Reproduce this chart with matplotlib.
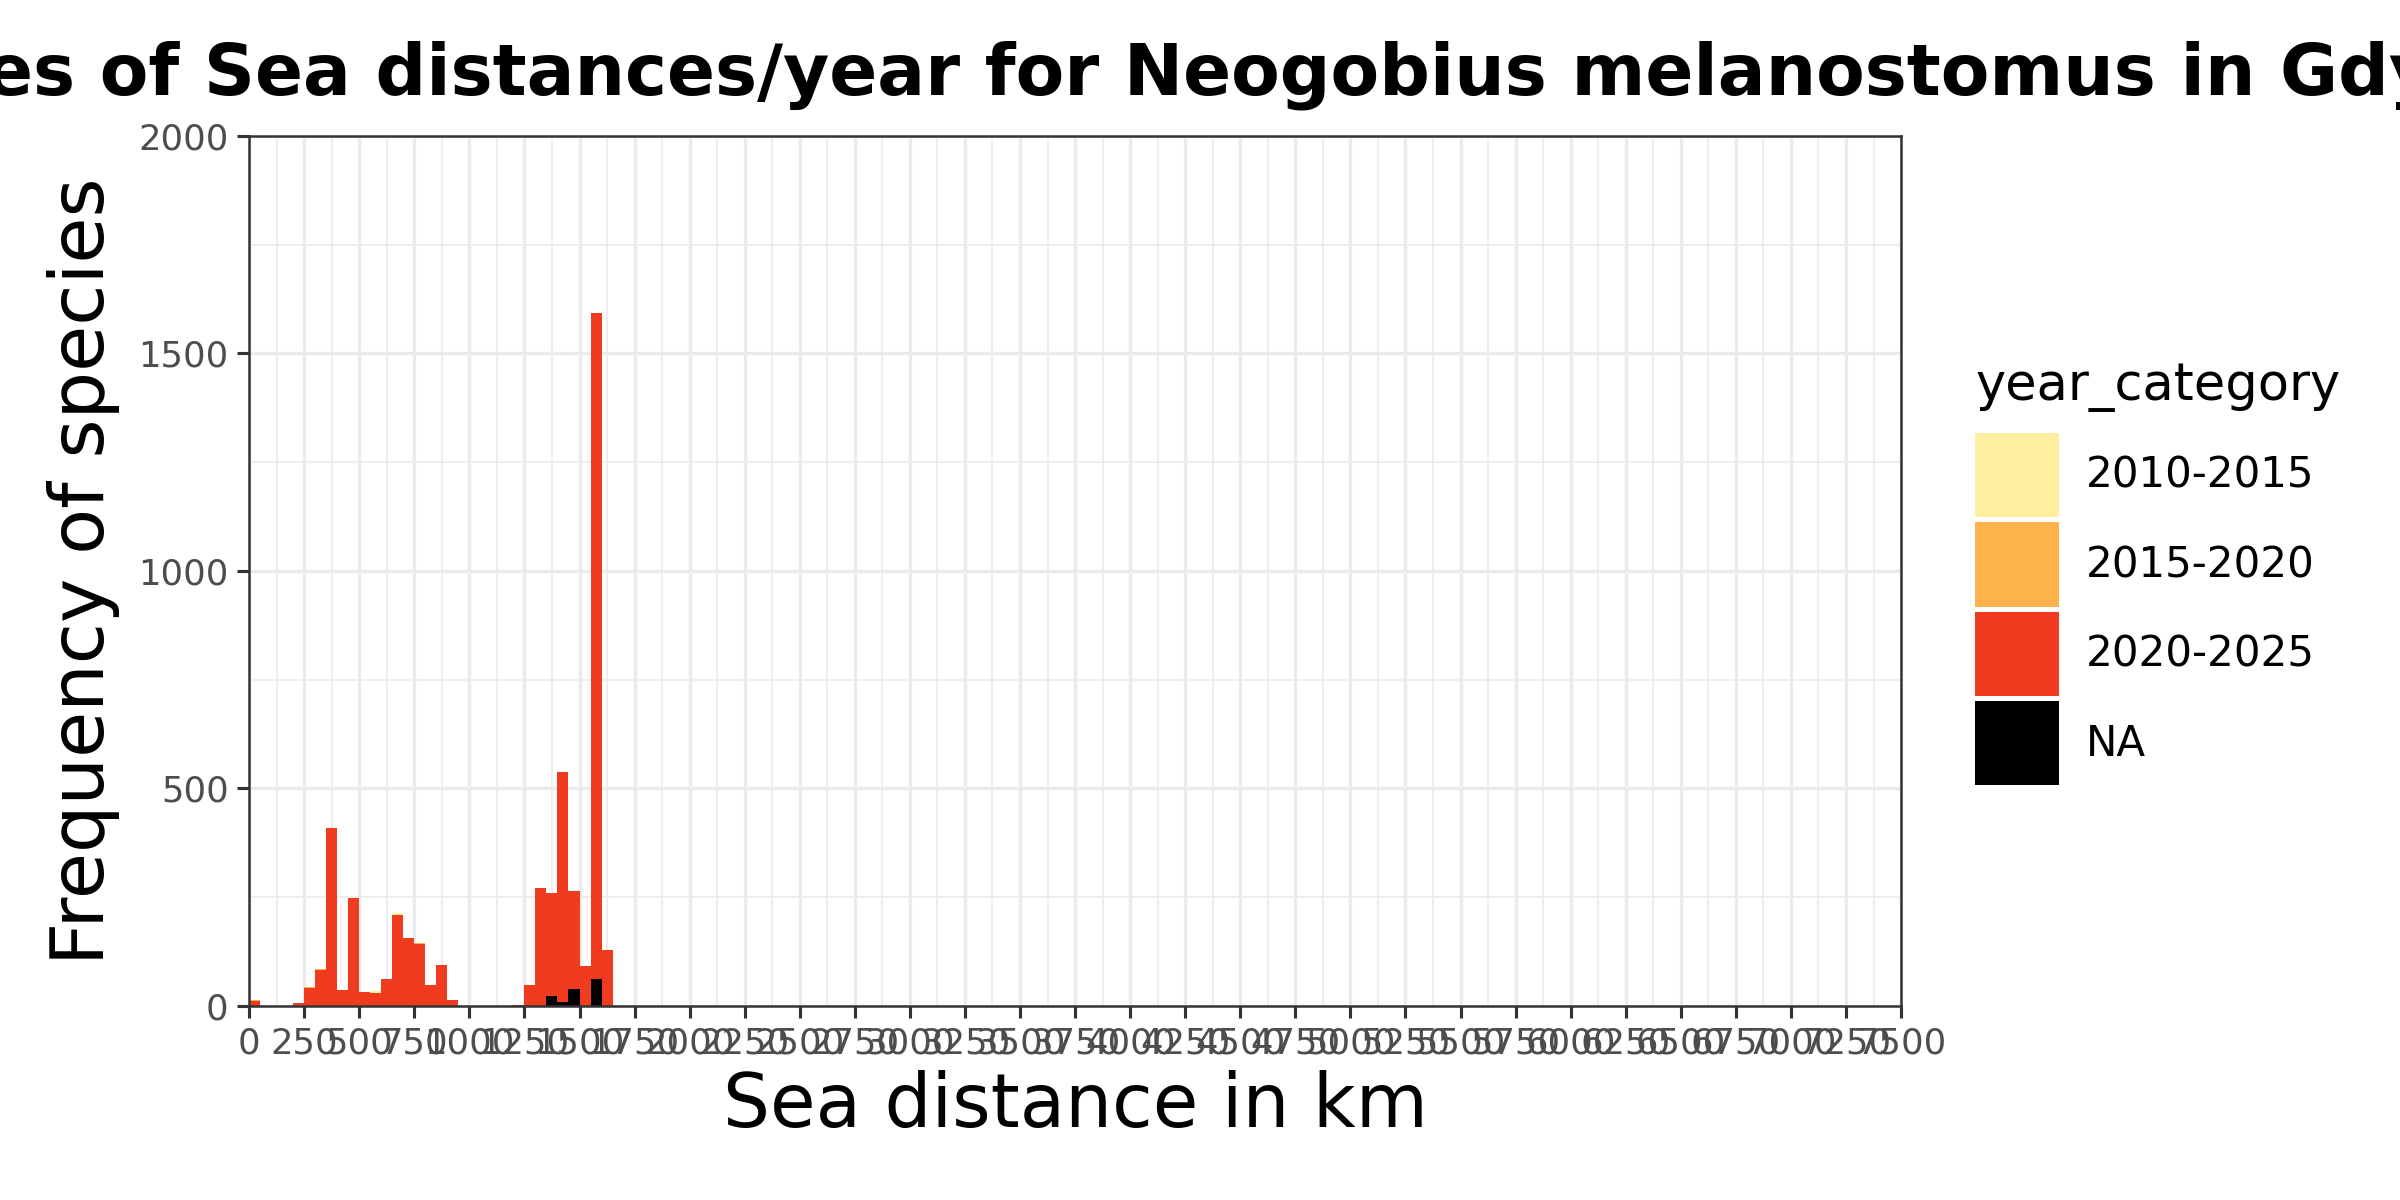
import numpy as np
import matplotlib
matplotlib.use("Agg")
import matplotlib.pyplot as plt
from matplotlib.patches import Patch

############## DATA (50 km bins) ##############
bin_width = 50
bin_starts = np.arange(0, 1650, bin_width)   # 0, 50, ..., 1600

# counts per bin, one list per year category (33 bins)
na_counts = [1, 0, 0, 0, 0, 1, 0, 0, 0, 0, 0, 0, 0, 0, 0, 0, 0, 0, 0,
             0, 0, 0, 0, 0, 0, 0, 0, 22, 8, 38, 0, 61, 0]
c2020_2025 = [10, 0, 0, 0, 7, 40, 83, 409, 36, 248, 31, 30, 61, 209, 157, 142, 48,
              94, 13, 0, 0, 0, 0, 0, 2, 48, 271, 237, 529, 226, 91, 1531, 128]
c2015_2020 = [2, 0, 0, 0, 0, 2, 2, 0, 0, 0, 0, 0, 0, 0, 0, 3, 0,
              0, 0, 0, 0, 0, 0, 0, 0, 0, 0, 0, 0, 0, 0, 0, 0]
c2010_2015 = [0, 0, 0, 0, 0, 0, 0, 0, 0, 0, 0, 4, 0, 5, 0, 0, 0,
              0, 0, 0, 0, 0, 0, 0, 0, 0, 0, 0, 0, 0, 0, 0, 0]

categories = ["2010-2015", "2015-2020", "2020-2025", "NA"]
colors = {"2010-2015": "#FFEDA0", "2015-2020": "#FEB24C",
          "2020-2025": "#F03B20", "NA": "#000000"}

# ggplot stacks the first level on top -> draw from the bottom up
stack = [("NA", na_counts), ("2020-2025", c2020_2025),
         ("2015-2020", c2015_2020), ("2010-2015", c2010_2015)]

x_ticks = np.arange(0, 7501, 250)
y_ticks = np.arange(0, 2001, 500)

############## PLOT ##############
plt.rcParams['font.family'] = ['DejaVu Sans']
fig = plt.figure(figsize=(16, 8), dpi=150)
ax = fig.add_axes([0.1038, 0.1617, 0.6883, 0.725])

bottom = np.zeros(len(bin_starts))
for name, vals in stack:
    vals = np.array(vals, dtype=float)
    ax.bar(bin_starts, vals, width=bin_width, bottom=bottom, align='edge',
           color=colors[name], linewidth=0, zorder=3)
    bottom += vals

ax.set_xlim(0, 7500)
ax.set_ylim(0, 2000)
ax.set_xticks(x_ticks)
ax.set_xticklabels([str(t) for t in x_ticks])
ax.set_yticks(y_ticks)
ax.set_xticks(x_ticks[:-1] + 125, minor=True)
ax.set_yticks(y_ticks[:-1] + 250, minor=True)

# theme_bw look
ax.grid(which='major', color='#EBEBEB', linewidth=1.6, zorder=0)
ax.grid(which='minor', color='#EBEBEB', linewidth=0.8, zorder=0)
ax.set_axisbelow(True)
for s in ax.spines.values():
    s.set_color('#333333')
    s.set_linewidth(1.2)
    s.set_zorder(5)
ax.tick_params(which='major', length=5.8, width=1.5, color='#333333',
               labelsize=17, labelcolor='#4D4D4D', pad=4)
ax.tick_params(which='minor', length=0)

ax.set_xlabel("Sea distance in km", fontsize=35.5, va='top')
ax.set_ylabel("Frequency of species", fontsize=36)
ax.xaxis.set_label_coords(0.5, -0.074)
ax.yaxis.set_label_coords(-0.078, 0.5)

ax.set_title("Frequencies of Sea distances/year for Neogobius melanostomus in Gdynia",
             fontsize=34, fontweight='bold', pad=20)

## legend: title as its own text so the gap above the keys can be set
fig.text(0.823, 0.667, "year_category", fontsize=24.5, va='baseline', ha='left')
handles = [Patch(facecolor=colors[c], edgecolor='none') for c in categories]
leg = fig.legend(handles, categories,
                 loc='upper left', bbox_to_anchor=(0.823, 0.639),
                 bbox_transform=fig.transFigure, frameon=False,
                 fontsize=20.2, borderpad=0,
                 handlelength=2.0, handleheight=2.70,
                 labelspacing=0.12, handletextpad=0.62, borderaxespad=0)

fig.savefig("out.png", dpi=150)
